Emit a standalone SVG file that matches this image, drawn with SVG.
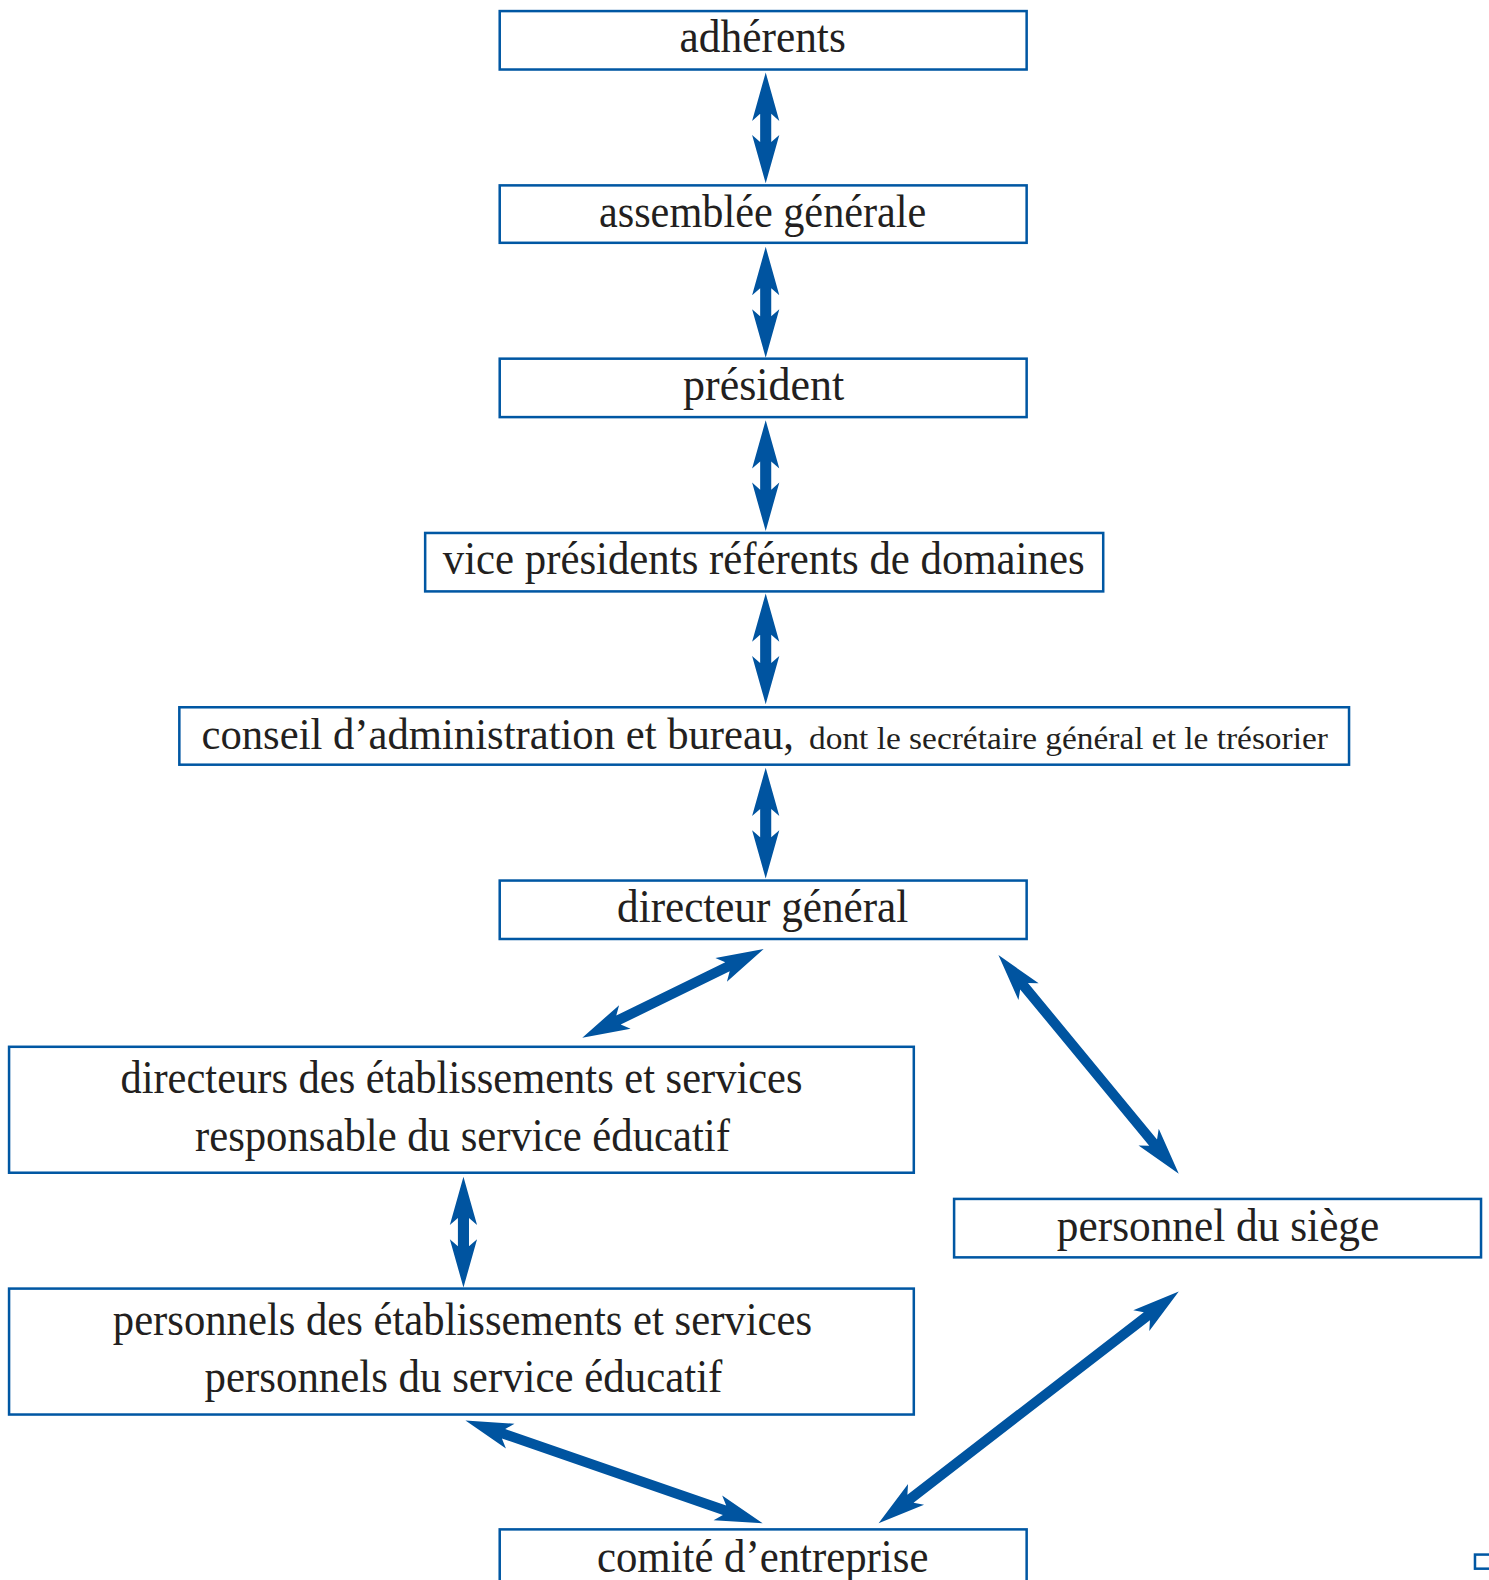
<svg xmlns="http://www.w3.org/2000/svg" width="1489" height="1580" viewBox="0 0 1489 1580">
<style>
.box{fill:#fff;stroke:#0057a3;stroke-width:2.5}
.t{font-family:"Liberation Serif",serif;font-size:47px;fill:#231f20;text-anchor:middle}
.l{text-anchor:start;font-size:43px}
.s{font-size:31px}
.arr{fill:#0054a0}
</style>
<defs>
<polygon id="a110" class="arr" points="0,0 48,-13.5 41,-5.5 69,-5.5 62,-13.5 110,0 62,13.5 69,5.5 41,5.5 48,13.5"/>
</defs>
<rect width="1489" height="1580" fill="#fff"/>
<g transform="scale(1.0075)">
<g id="connectors">
<use href="#a110" transform="translate(760,72) rotate(90)"/>
<use href="#a110" transform="translate(760,245) rotate(90)"/>
<use href="#a110" transform="translate(760,417) rotate(90)"/>
<use href="#a110" transform="translate(760,589) rotate(90)"/>
<use href="#a110" transform="translate(760,762) rotate(90)"/>
<use href="#a110" transform="translate(460,1168) rotate(90)"/>
<polygon class="arr" transform="translate(758,942) rotate(153.95)" points="0,0 47,-13 40,-5 160.4,-5 153.4,-13 200.4,0 153.4,13 160.4,5 40,5 47,13"/>
<polygon class="arr" transform="translate(991,948) rotate(50.48)" points="0,0 47,-13 40,-5 241.3,-5 234.3,-13 281.3,0 234.3,13 241.3,5 40,5 47,13"/>
<polygon class="arr" transform="translate(462,1410) rotate(19.08)" points="0,0 47,-13 40,-5 272.1,-5 265.1,-13 312.1,0 265.1,13 272.1,5 40,5 47,13"/>
<polygon class="arr" transform="translate(1170,1282) rotate(142.34)" points="0,0 47,-13 40,-5 336.4,-5 329.4,-13 376.4,0 329.4,13 336.4,5 40,5 47,13"/>
</g>
<g id="adherents"><rect class="box" x="496" y="11" width="523" height="58"/><text class="t" x="757" y="52" textLength="165" lengthAdjust="spacingAndGlyphs">adhérents</text></g>
<g id="assemblee"><rect class="box" x="496" y="184" width="523" height="57"/><text class="t" x="757" y="225" textLength="325" lengthAdjust="spacingAndGlyphs">assemblée générale</text></g>
<g id="president"><rect class="box" x="496" y="356" width="523" height="58"/><text class="t" x="758" y="397" textLength="160" lengthAdjust="spacingAndGlyphs">président</text></g>
<g id="vicepresidents"><rect class="box" x="422" y="529" width="673" height="58"/><text class="t" x="758" y="570" textLength="637" lengthAdjust="spacingAndGlyphs">vice présidents référents de domaines</text></g>
<g id="conseil"><rect class="box" x="178" y="702" width="1161" height="57"/><text class="t l" x="200" y="743"><tspan textLength="588" lengthAdjust="spacingAndGlyphs">conseil d’administration et bureau,</tspan><tspan class="s" x="803" textLength="515" lengthAdjust="spacingAndGlyphs">dont le secrétaire général et le trésorier</tspan></text></g>
<g id="directeur"><rect class="box" x="496" y="874" width="523" height="58"/><text class="t" x="757" y="915" textLength="289" lengthAdjust="spacingAndGlyphs">directeur général</text></g>
<g id="directeurs"><rect class="box" x="9" y="1039" width="898" height="125"/><text class="t" x="458" y="1085" textLength="677" lengthAdjust="spacingAndGlyphs">directeurs des établissements et services</text><text class="t" x="459" y="1142" textLength="531" lengthAdjust="spacingAndGlyphs">responsable du service éducatif</text></g>
<g id="siege"><rect class="box" x="947" y="1190" width="523" height="58"/><text class="t" x="1209" y="1232" textLength="320" lengthAdjust="spacingAndGlyphs">personnel du siège</text></g>
<g id="personnels"><rect class="box" x="9" y="1279" width="898" height="125"/><text class="t" x="459" y="1325" textLength="694" lengthAdjust="spacingAndGlyphs">personnels des établissements et services</text><text class="t" x="460" y="1382" textLength="514" lengthAdjust="spacingAndGlyphs">personnels du service éducatif</text></g>
<g id="comite"><rect class="box" x="496" y="1518" width="523" height="70"/><text class="t" x="757" y="1560" textLength="329" lengthAdjust="spacingAndGlyphs">comité d’entreprise</text></g>
<rect class="box" x="1464" y="1543" width="24" height="14"/>
</g>
</svg>
